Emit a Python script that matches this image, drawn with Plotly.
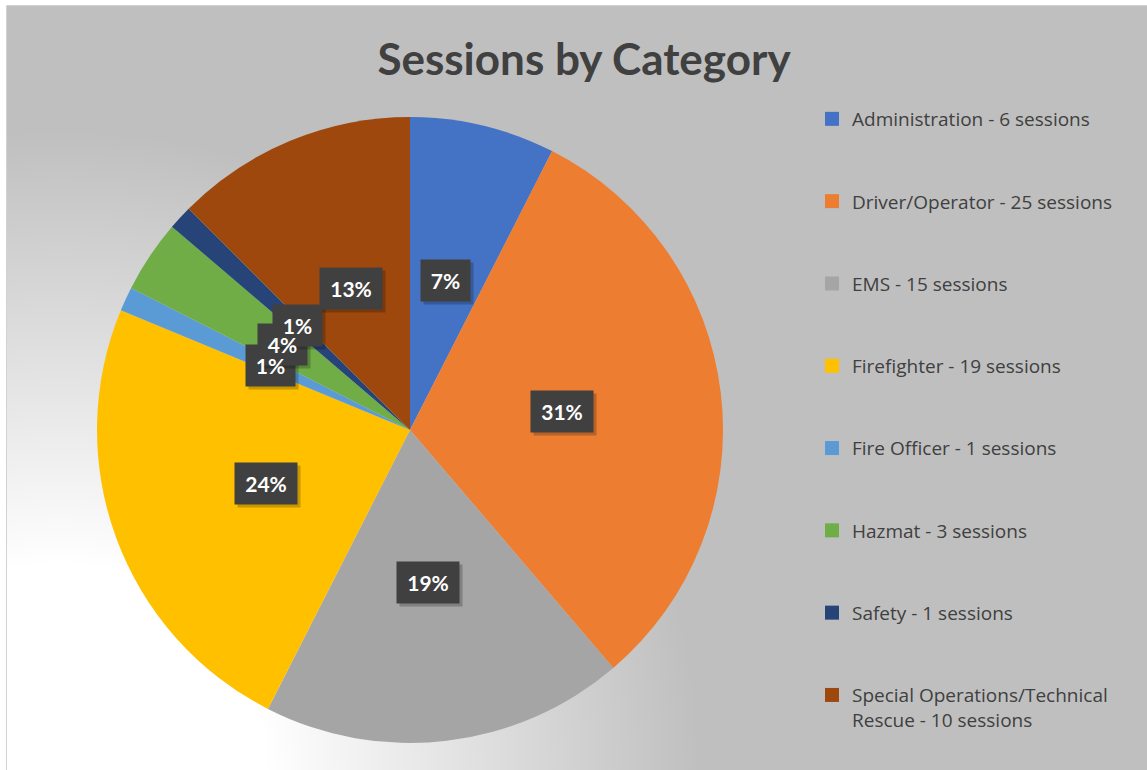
import base64
import math
import textwrap

import plotly.graph_objects as go

# ---------------------------------------------------------------------------
# Data
# ---------------------------------------------------------------------------
categories = [
    "Administration",
    "Driver/Operator",
    "EMS",
    "Firefighter",
    "Fire Officer",
    "Hazmat",
    "Safety",
    "Special Operations/Technical Rescue",
]
sessions = [6, 25, 15, 19, 1, 3, 1, 10]
pct_labels = ["7%", "31%", "19%", "24%", "1%", "4%", "1%", "13%"]

# Office palette
_COLORS = ["#4472C4", "#ED7D31", "#A5A5A5", "#FFC000",
           "#5B9BD5", "#70AD47", "#264478", "#9E480E"]
_FONT = "Lato, 'Open Sans', sans-serif"
_LEG_FONT = "'Open Sans', Lato, sans-serif"
_TEXT = "#404040"

W, H = 1147, 770
CX, CY, R = 410, 430, 313          # pie centre / radius in pixels

# radial background gradient (white in lower-left, grey towards edges)
_svg = f"""<svg xmlns='http://www.w3.org/2000/svg' width='{W - 7}' height='{H - 6}'>
<defs><radialGradient id='g' gradientUnits='userSpaceOnUse' cx='53' cy='{H - 6}' r='640'>
<stop offset='0' stop-color='#ffffff'/><stop offset='0.32' stop-color='#ffffff'/>
<stop offset='1' stop-color='#bfbfbf'/></radialGradient></defs>
<rect width='100%' height='100%' fill='url(#g)'/></svg>"""
_bg_src = "data:image/svg+xml;base64," + base64.b64encode(_svg.encode()).decode()

fig = go.Figure()

fig.add_trace(
    go.Pie(
        labels=categories,
        values=sessions,
        sort=False,
        direction="clockwise",
        rotation=0,
        marker=dict(colors=_COLORS, line=dict(width=0)),
        textinfo="none",
        showlegend=False,
        domain=dict(x=[(CX - R) / W, (CX + R) / W],
                    y=[1 - (CY + R) / H, 1 - (CY - R) / H]),
        hovertemplate="<b>%{label}</b><br>%{value} sessions<extra></extra>",
    )
)

# legend entries (dummy traces so each item can be spaced like Excel)
for cat, n, col in zip(categories, sessions, _COLORS):
    name = "<br>".join(textwrap.wrap(f"{cat} - {n} sessions", 30))
    fig.add_trace(
        go.Scatter(
            x=[None], y=[None], mode="markers", name=name, legendgroup=cat,
            marker=dict(symbol="square", size=14, color=col),
        )
    )

# data labels: dark boxes at half radius along each slice's mid-angle
total = sum(sessions)
cum = 0
label_pos = []
for n, lab in zip(sessions, pct_labels):
    phi = 2 * math.pi * (cum + n / 2) / total
    cum += n
    label_pos.append((CX + 0.49 * R * math.sin(phi),
                      CY - 0.49 * R * math.cos(phi), lab))

# boxes first (shadow + fill), then all the texts on top so none get hidden
boxes, texts = [], []
for lx, ly, lab in label_pos:
    box_w = 13 * len(lab) + 9
    common = dict(x=lx, y=ly, xref="x", yref="y", showarrow=False,
                  borderpad=7, width=box_w, height=27)
    boxes.append(dict(common, text=" ", bgcolor="rgba(0,0,0,0.22)",
                      xshift=3, yshift=-3))
    boxes.append(dict(common, text=" ", bgcolor="#404040"))
    texts.append(dict(common, text=f"<b>{lab}</b>",
                      font=dict(size=21, color="#ffffff", family=_FONT)))

shapes = [
    # chart frame
    dict(type="rect", xref="x", yref="y", x0=7, y0=6, x1=W + 2, y1=H + 2,
         line=dict(color="#c4c4c4", width=1.5), fillcolor="rgba(0,0,0,0)",
         layer="below"),
    # legend panel
    dict(type="rect", xref="x", yref="y", x0=818, y0=93, x1=1145, y1=752,
         line=dict(width=0), fillcolor="#d4d4d4", layer="below"),
]
# soft shadow round the pie
for i in range(1, 9):
    r = R + 2.5 * i
    shapes.append(dict(type="circle", xref="x", yref="y",
                       x0=CX - r, x1=CX + r, y0=CY - r, y1=CY + r,
                       line=dict(width=0), fillcolor="rgba(0,0,0,0.016)",
                       layer="below"))

fig.update_layout(
    width=W,
    height=H,
    margin=dict(l=0, r=0, t=0, b=0),
    paper_bgcolor="#ffffff",
    plot_bgcolor="rgba(0,0,0,0)",
    font=dict(family=_FONT, color=_TEXT),
    title=dict(
        text="<b>Sessions by Category</b>",
        font=dict(size=44, color=_TEXT, family=_FONT),
        x=584 / W, xanchor="center",
        y=1 - 60 / H, yanchor="middle",
    ),
    xaxis=dict(range=[0, W], visible=False, fixedrange=True),
    yaxis=dict(range=[H, 0], visible=False, fixedrange=True),
    legend=dict(
        x=812 / W, xanchor="left",
        y=1 - 100 / H, yanchor="top",
        bgcolor="rgba(0,0,0,0)",
        font=dict(size=19, color=_TEXT, family=_LEG_FONT),
        tracegroupgap=54.6,
        valign="top",
    ),
    images=[dict(source=_bg_src, xref="x", yref="y", x=7, y=6,
                 sizex=W - 7, sizey=H - 6, sizing="stretch",
                 xanchor="left", yanchor="top", layer="below")],
    shapes=shapes,
    annotations=boxes + texts,
)

fig.write_html("out.html", config={"displayModeBar": False},
               post_script="document.body.style.margin='0';")
